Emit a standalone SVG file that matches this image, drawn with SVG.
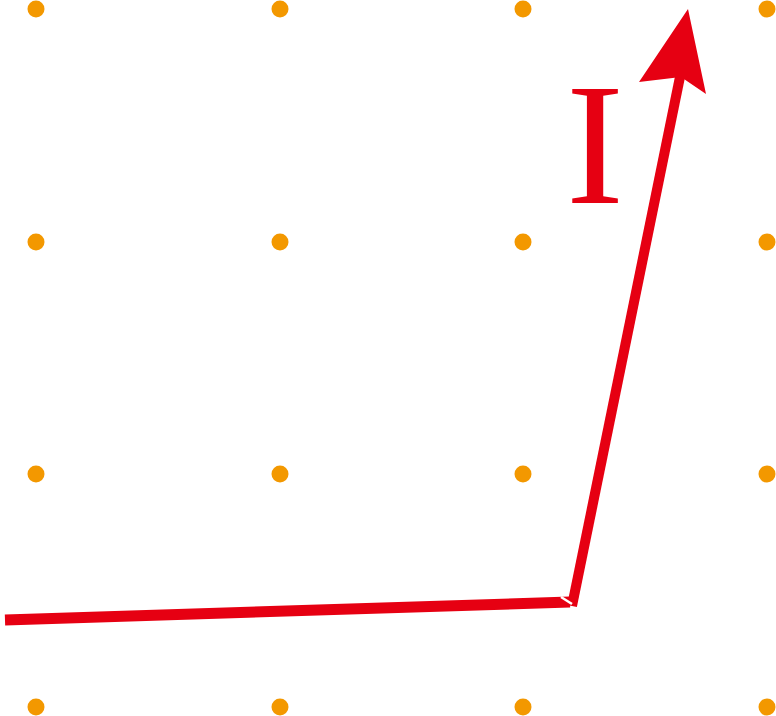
<svg xmlns="http://www.w3.org/2000/svg" width="776" height="716" viewBox="0 0 776 716">
<style>
.dot{fill:#F39800}
.wire{stroke:#E60012;fill:none;stroke-linecap:butt}
.lbl{font-family:"Liberation Serif","Times New Roman",serif;fill:#E60012}
</style>
<rect width="776" height="716" fill="#fff"/>
<g id="dots">
<circle class="dot" cx="36" cy="9" r="8.5"/><circle class="dot" cx="280" cy="9" r="8.5"/><circle class="dot" cx="523" cy="9" r="8.5"/><circle class="dot" cx="767" cy="9" r="8.5"/>
<circle class="dot" cx="36" cy="242" r="8.5"/><circle class="dot" cx="280" cy="242" r="8.5"/><circle class="dot" cx="523" cy="242" r="8.5"/><circle class="dot" cx="767" cy="242" r="8.5"/>
<circle class="dot" cx="36" cy="474" r="8.5"/><circle class="dot" cx="280" cy="474" r="8.5"/><circle class="dot" cx="523" cy="474" r="8.5"/><circle class="dot" cx="767" cy="474" r="8.5"/>
<circle class="dot" cx="36" cy="707" r="8.5"/><circle class="dot" cx="280" cy="707" r="8.5"/><circle class="dot" cx="523" cy="707" r="8.5"/><circle class="dot" cx="767" cy="707" r="8.5"/>
</g>
<g id="connectors">
<line class="wire" x1="5" y1="620" x2="570" y2="602" stroke-width="11"/>
<line class="wire" x1="572" y1="606" x2="681" y2="72" stroke-width="10"/>
<polygon fill="#E60012" points="688,9 706,94 681,77 639,82"/>
<line x1="561" y1="597" x2="572" y2="604" stroke="#fff" stroke-width="2.5"/>
</g>
<g id="label">
<text class="lbl" x="595" y="203" font-size="174" text-anchor="middle">I</text>
</g>
</svg>
